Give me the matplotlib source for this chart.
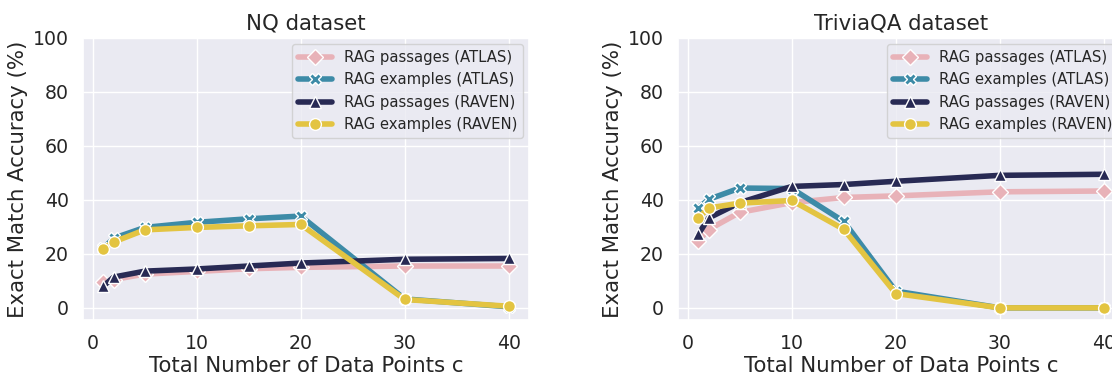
import matplotlib
matplotlib.use("Agg")
import matplotlib.pyplot as plt
import seaborn as sns

# number of retrieved data points
c_values = [1, 2, 5, 10, 15, 20, 30, 40]

# NQ exact match (%)
nq_passages_atlas = [9.5, 10.5, 12.5, 13.5, 14.5, 15.0, 15.5, 15.5]
nq_examples_atlas = [22.0, 25.8, 29.8, 31.7, 33.0, 34.0, 3.3, 0.4]
nq_passages_raven = [8.0, 11.4, 13.6, 14.4, 15.5, 16.6, 18.0, 18.3]
nq_examples_raven = [21.9, 24.4, 28.9, 29.8, 30.4, 30.9, 3.1, 0.6]

# TriviaQA exact match (%)
tqa_passages_atlas = [24.8, 29.0, 35.4, 39.0, 40.9, 41.5, 43.0, 43.3]
tqa_examples_atlas = [37.0, 40.2, 44.4, 44.2, 32.0, 6.2, 0.0, 0.0]
tqa_passages_raven = [27.2, 33.3, 39.0, 45.0, 45.7, 46.9, 49.1, 49.5]
tqa_examples_raven = [33.3, 37.0, 38.8, 39.8, 29.1, 5.3, 0.0, 0.0]

labels = ["RAG passages (ATLAS)", "RAG examples (ATLAS)",
          "RAG passages (RAVEN)", "RAG examples (RAVEN)"]
colors = ["#e8b2b8", "#3d8ba7", "#282a54", "#e3c441"]
markers = ["D", "X", "^", "o"]

sns.set_theme(style="darkgrid")
plt.rcParams["font.family"] = ["DejaVu Sans"]

fig = plt.figure(figsize=(11.12, 3.74), dpi=100)
ax1 = fig.add_axes([0.0746, 0.1444, 0.4011, 0.754])
ax2 = fig.add_axes([0.6097, 0.1444, 0.4011, 0.754])

panels = [
    (ax1, "NQ dataset", [nq_passages_atlas, nq_examples_atlas,
                         nq_passages_raven, nq_examples_raven]),
    (ax2, "TriviaQA dataset", [tqa_passages_atlas, tqa_examples_atlas,
                               tqa_passages_raven, tqa_examples_raven]),
]

for ax, title, series in panels:
    for vals, lab, col, mk in zip(series, labels, colors, markers):
        ax.plot(c_values, vals, color=col, marker=mk, linewidth=4,
                markersize=8.5, markeredgecolor="white",
                markeredgewidth=1, label=lab)
    ax.set_xlim(-0.95, 41.95)
    ax.set_ylim(-4.5, 100)
    ax.set_xticks([0, 10, 20, 30, 40])
    ax.set_yticks([0, 20, 40, 60, 80, 100])
    ax.tick_params(labelsize=13.6, pad=4)
    ax.set_title(title, fontsize=15.3, pad=6)
    ax.set_xlabel("Total Number of Data Points c", fontsize=15.3, labelpad=2)
    ax.set_ylabel("Exact Match Accuracy (%)", fontsize=15.3, labelpad=4)
    ax.legend(loc="upper right", fontsize=10.7, handlelength=2.3,
              borderaxespad=0.4)

fig.savefig("out.png", dpi=100)
